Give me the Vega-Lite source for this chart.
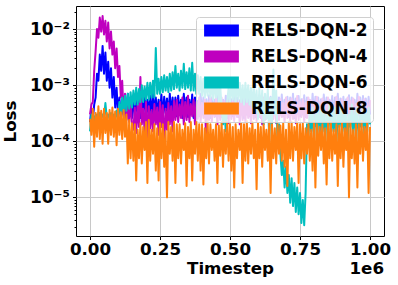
{
"$schema": "https://vega.github.io/schema/vega-lite/v6.json",
"width": 308, "height": 230,
"autosize": "none",
"padding": {"left": 76, "top": 6, "right": 14, "bottom": 49},
"config": {
 "font": "DejaVu Sans",
 "view": {"stroke": "black", "strokeWidth": 1},
 "axis": {"labelFont": "DejaVu Sans", "labelFontSize": 16.7, "labelFontWeight": "bold", "labelColor": "black",
  "titleFont": "DejaVu Sans", "titleFontSize": 16.7, "titleFontWeight": "bold", "titleColor": "black",
  "domain": false, "tickColor": "black", "tickWidth": 1, "gridColor": "#c8c8c8", "gridWidth": 1, "labelOverlap": false}
},
"title": {"text": "1e6", "orient": "bottom", "anchor": "end", "frame": "group", "fontSize": 16.7, "fontWeight": "bold", "font": "DejaVu Sans", "color": "black", "offset": -16},
"data": {"values": [
{"t":0,"a":2.2e-4,"b":3e-4,"c":1.5e-4,"d":2.5e-4},
{"t":5000,"a":3.8e-4,"b":4.5e-4,"c":3e-4,"d":1.3e-4},
{"t":10000,"a":2.4e-4,"b":5e-4,"c":1.8e-4,"d":3.8e-4},
{"t":15000,"a":4.5e-4,"b":1.8e-3,"c":2.8e-4,"d":8e-5},
{"t":20000,"a":6e-4,"b":4e-3,"c":2.2e-4,"d":3.2e-4},
{"t":25000,"a":1.6e-3,"b":1e-2,"c":3e-4,"d":1.2e-4},
{"t":30000,"a":1.2e-3,"b":7e-3,"c":2.4e-4,"d":4.2e-4},
{"t":35000,"a":3.5e-3,"b":1.6e-2,"c":3.2e-4,"d":1.1e-4},
{"t":40000,"a":1.8e-3,"b":9e-3,"c":2.5e-4,"d":3.5e-4},
{"t":45000,"a":5e-3,"b":1.7e-2,"c":3e-4,"d":9e-5},
{"t":50000,"a":1.6e-3,"b":8e-3,"c":2.6e-4,"d":3.8e-4},
{"t":55000,"a":3.8e-3,"b":1.4e-2,"c":4.8e-4,"d":1.4e-4},
{"t":60000,"a":1.2e-3,"b":6e-3,"c":2.6e-4,"d":3.2e-4},
{"t":65000,"a":2.6e-3,"b":1.3e-2,"c":3e-4,"d":9e-5},
{"t":70000,"a":9e-4,"b":4.5e-3,"c":2.5e-4,"d":3.6e-4},
{"t":75000,"a":2e-3,"b":9e-3,"c":3.2e-4,"d":1.3e-4},
{"t":80000,"a":6e-4,"b":3.5e-3,"c":2.6e-4,"d":4e-4},
{"t":85000,"a":1.4e-3,"b":6e-3,"c":3e-4,"d":1.2e-4},
{"t":90000,"a":4e-4,"b":2e-3,"c":2.4e-4,"d":3.4e-4},
{"t":95000,"a":9e-4,"b":4.5e-3,"c":3.5e-4,"d":8.5e-5},
{"t":100000,"a":3e-4,"b":1.4e-3,"c":2.6e-4,"d":3.8e-4},
{"t":105000,"a":6e-4,"b":2.2e-3,"c":5e-4,"d":1.3e-4},
{"t":110000,"a":2.6e-4,"b":6e-4,"c":3e-4,"d":3.3e-4},
{"t":115000,"a":5.5e-4,"b":1.2e-3,"c":6e-4,"d":1.1e-4},
{"t":120000,"a":2.8e-4,"b":3e-4,"c":3.2e-4,"d":3.6e-4},
{"t":125000,"a":6.5e-4,"b":7e-4,"c":6.5e-4,"d":1.2e-4},
{"t":130000,"a":2.4e-4,"b":2.5e-4,"c":3.5e-4,"d":3e-4},
{"t":135000,"a":7e-4,"b":5e-4,"c":7e-4,"d":4e-5},
{"t":140000,"a":3e-4,"b":2.2e-4,"c":3.8e-4,"d":2.4e-4},
{"t":145000,"a":6e-4,"b":5.5e-4,"c":7.5e-4,"d":5e-5},
{"t":150000,"a":2.6e-4,"b":2e-4,"c":4e-4,"d":2.1e-4},
{"t":155000,"a":6.5e-4,"b":1.6e-4,"c":8e-4,"d":4.5e-5},
{"t":160000,"a":2.8e-4,"b":4e-4,"c":4.5e-4,"d":2e-4},
{"t":165000,"a":5.5e-4,"b":1.4e-4,"c":9e-4,"d":2e-5},
{"t":170000,"a":3e-4,"b":4.5e-4,"c":4.5e-4,"d":1.6e-4},
{"t":175000,"a":7e-4,"b":1.8e-4,"c":8.5e-4,"d":5e-5},
{"t":180000,"a":2.6e-4,"b":1.4e-3,"c":5e-4,"d":2.1e-4},
{"t":185000,"a":6e-4,"b":2e-4,"c":1e-3,"d":4e-5},
{"t":190000,"a":3.2e-4,"b":3.8e-4,"c":5e-4,"d":1.8e-4},
{"t":195000,"a":7.5e-4,"b":1.5e-4,"c":9.5e-4,"d":7e-5},
{"t":200000,"a":2.7e-4,"b":5e-4,"c":5.5e-4,"d":2.2e-4},
{"t":205000,"a":5.5e-4,"b":1e-4,"c":1.1e-3,"d":1.8e-5},
{"t":210000,"a":3e-4,"b":4.2e-4,"c":5.5e-4,"d":2.4e-4},
{"t":215000,"a":6.5e-4,"b":1.7e-4,"c":1.1e-3,"d":4.5e-5},
{"t":220000,"a":2.6e-4,"b":3.6e-4,"c":6e-4,"d":1.6e-4},
{"t":225000,"a":7e-4,"b":1.5e-4,"c":1.2e-3,"d":6e-5},
{"t":230000,"a":3.1e-4,"b":4.6e-4,"c":6e-4,"d":2e-4},
{"t":235000,"a":6e-4,"b":2e-4,"c":4.6e-3,"d":3e-5},
{"t":240000,"a":2.8e-4,"b":4e-4,"c":7e-4,"d":1.7e-4},
{"t":245000,"a":5.5e-4,"b":1.3e-4,"c":1.3e-3,"d":2e-5},
{"t":250000,"a":3e-4,"b":5e-4,"c":7e-4,"d":2.1e-4},
{"t":255000,"a":6.8e-4,"b":1.8e-4,"c":1.4e-3,"d":5e-5},
{"t":260000,"a":2.6e-4,"b":4.4e-4,"c":7.5e-4,"d":2e-4},
{"t":265000,"a":6.2e-4,"b":8e-5,"c":1.5e-3,"d":3.5e-5},
{"t":270000,"a":3.2e-4,"b":3.8e-4,"c":8e-4,"d":1.5e-4},
{"t":275000,"a":5.8e-4,"b":1.6e-4,"c":1.4e-3,"d":1e-5},
{"t":280000,"a":2.7e-4,"b":4.8e-4,"c":7.5e-4,"d":2.2e-4},
{"t":285000,"a":7e-4,"b":2e-4,"c":1.6e-3,"d":6e-5},
{"t":290000,"a":3e-4,"b":4.2e-4,"c":8e-4,"d":1.8e-4},
{"t":295000,"a":6e-4,"b":1.5e-4,"c":1.7e-3,"d":4.5e-5},
{"t":300000,"a":2.8e-4,"b":5.2e-4,"c":8.5e-4,"d":2.2e-4},
{"t":305000,"a":6e-4,"b":2.4e-4,"c":2.2e-3,"d":1.8e-5},
{"t":310000,"a":2.8e-4,"b":5.5e-4,"c":9e-4,"d":2e-4},
{"t":315000,"a":6.5e-4,"b":2.2e-4,"c":1.6e-3,"d":5e-5},
{"t":320000,"a":3e-4,"b":4.5e-4,"c":8e-4,"d":2e-4},
{"t":325000,"a":5.5e-4,"b":2.6e-4,"c":1.8e-3,"d":4e-5},
{"t":330000,"a":2.6e-4,"b":6e-4,"c":9e-4,"d":1.6e-4},
{"t":335000,"a":7e-4,"b":2e-4,"c":2.4e-3,"d":7e-5},
{"t":340000,"a":3.2e-4,"b":5e-4,"c":8.5e-4,"d":2.1e-4},
{"t":345000,"a":6e-4,"b":2.4e-4,"c":1.7e-3,"d":1.6e-5},
{"t":350000,"a":2.7e-4,"b":6.5e-4,"c":9e-4,"d":1.8e-4},
{"t":355000,"a":5.5e-4,"b":2.2e-4,"c":2e-3,"d":5e-5},
{"t":360000,"a":3e-4,"b":4.6e-4,"c":8e-4,"d":2.2e-4},
{"t":365000,"a":6.8e-4,"b":2.8e-4,"c":2.5e-3,"d":2e-5},
{"t":370000,"a":2.6e-4,"b":5.5e-4,"c":8e-4,"d":1.6e-4},
{"t":375000,"a":6e-4,"b":2e-4,"c":1.6e-3,"d":6e-5},
{"t":380000,"a":3e-4,"b":5e-4,"c":7e-4,"d":2.2e-4},
{"t":385000,"a":5.2e-4,"b":2.5e-4,"c":1.5e-3,"d":4.5e-5},
{"t":390000,"a":2.8e-4,"b":6e-4,"c":7e-4,"d":2e-4},
{"t":395000,"a":7e-4,"b":2.2e-4,"c":1.4e-3,"d":3e-5},
{"t":400000,"a":3.1e-4,"b":4.8e-4,"c":6.5e-4,"d":2e-4},
{"t":405000,"a":6e-4,"b":2.6e-4,"c":1.3e-3,"d":1.7e-5},
{"t":410000,"a":2.7e-4,"b":5.5e-4,"c":6e-4,"d":1.7e-4},
{"t":415000,"a":5.6e-4,"b":1e-4,"c":1.2e-3,"d":5e-5},
{"t":420000,"a":3e-4,"b":5e-4,"c":6.5e-4,"d":2.3e-4},
{"t":425000,"a":6.6e-4,"b":2.4e-4,"c":1.3e-3,"d":4e-5},
{"t":430000,"a":2.6e-4,"b":6.2e-4,"c":6e-4,"d":2e-4},
{"t":435000,"a":6e-4,"b":2.2e-4,"c":1.1e-3,"d":7e-5},
{"t":440000,"a":3.2e-4,"b":4.6e-4,"c":5.5e-4,"d":1.6e-4},
{"t":445000,"a":5.5e-4,"b":2.7e-4,"c":1.2e-3,"d":4.5e-5},
{"t":450000,"a":2.8e-4,"b":5.8e-4,"c":6e-4,"d":2e-4},
{"t":455000,"a":7e-4,"b":2e-4,"c":1.1e-3,"d":1.8e-5},
{"t":460000,"a":3e-4,"b":5e-4,"c":5e-4,"d":1.9e-4},
{"t":465000,"a":6e-4,"b":2.4e-4,"c":1e-3,"d":5.5e-5},
{"t":470000,"a":2.7e-4,"b":6e-4,"c":4e-4,"d":2.2e-4},
{"t":475000,"a":5.5e-4,"b":2.2e-4,"c":2e-4,"d":3.5e-5},
{"t":480000,"a":3e-4,"b":5.2e-4,"c":3.5e-4,"d":1.6e-4},
{"t":485000,"a":6.5e-4,"b":2.6e-4,"c":1.5e-4,"d":6e-5},
{"t":490000,"a":2.6e-4,"b":4.6e-4,"c":5e-4,"d":2.2e-4},
{"t":495000,"a":6e-4,"b":2.1e-4,"c":9e-4,"d":4.5e-5},
{"t":500000,"a":3.1e-4,"b":6.4e-4,"c":5e-4,"d":2e-4},
{"t":505000,"a":5.6e-4,"b":2.5e-4,"c":1.1e-3,"d":3e-5},
{"t":510000,"a":2.8e-4,"b":5e-4,"c":5.5e-4,"d":1.8e-4},
{"t":515000,"a":7e-4,"b":2.3e-4,"c":1e-3,"d":1.5e-5},
{"t":520000,"a":3e-4,"b":5.6e-4,"c":5e-4,"d":2e-4},
{"t":525000,"a":6e-4,"b":2.7e-4,"c":1.2e-3,"d":5e-5},
{"t":530000,"a":2.7e-4,"b":4.8e-4,"c":5.5e-4,"d":1.6e-4},
{"t":535000,"a":5.4e-4,"b":2e-4,"c":1.1e-3,"d":7e-5},
{"t":540000,"a":3.2e-4,"b":6e-4,"c":5e-4,"d":2.1e-4},
{"t":545000,"a":6.4e-4,"b":2.4e-4,"c":1e-3,"d":1.8e-5},
{"t":550000,"a":2.6e-4,"b":5.2e-4,"c":4.5e-4,"d":2e-4},
{"t":555000,"a":6e-4,"b":2.2e-4,"c":1.1e-3,"d":4.5e-5},
{"t":560000,"a":3e-4,"b":5.8e-4,"c":5e-4,"d":2.3e-4},
{"t":565000,"a":7e-4,"b":2.6e-4,"c":1e-3,"d":4e-5},
{"t":570000,"a":2.8e-4,"b":4.6e-4,"c":4.5e-4,"d":1.7e-4},
{"t":575000,"a":5.6e-4,"b":2.1e-4,"c":9e-4,"d":6e-5},
{"t":580000,"a":3.1e-4,"b":6.2e-4,"c":4e-4,"d":2.2e-4},
{"t":585000,"a":6.2e-4,"b":2.5e-4,"c":1e-3,"d":5e-5},
{"t":590000,"a":2.7e-4,"b":5e-4,"c":3.5e-4,"d":1.6e-4},
{"t":595000,"a":5.8e-4,"b":2.3e-4,"c":8e-4,"d":1.4e-5},
{"t":600000,"a":3e-4,"b":5.6e-4,"c":2.5e-4,"d":2.1e-4},
{"t":605000,"a":6.6e-4,"b":2.7e-4,"c":9e-4,"d":5e-5},
{"t":610000,"a":2.6e-4,"b":4.8e-4,"c":3e-4,"d":1.8e-4},
{"t":615000,"a":6e-4,"b":2e-4,"c":8e-4,"d":3.5e-5},
{"t":620000,"a":3.2e-4,"b":6e-4,"c":2e-4,"d":2e-4},
{"t":625000,"a":5.5e-4,"b":2.4e-4,"c":7e-4,"d":7e-5},
{"t":630000,"a":2.8e-4,"b":5.2e-4,"c":2.5e-4,"d":1.6e-4},
{"t":635000,"a":7e-4,"b":2.6e-4,"c":9e-4,"d":4.5e-5},
{"t":640000,"a":3e-4,"b":5.8e-4,"c":1e-4,"d":2.2e-4},
{"t":645000,"a":6.2e-4,"b":2.2e-4,"c":6e-4,"d":1.2e-5},
{"t":650000,"a":2.7e-4,"b":4.6e-4,"c":2e-4,"d":2e-4},
{"t":655000,"a":5.6e-4,"b":2.5e-4,"c":1.9e-3,"d":5e-5},
{"t":660000,"a":3.1e-4,"b":6.2e-4,"c":3e-4,"d":1.7e-4},
{"t":665000,"a":6.4e-4,"b":2.1e-4,"c":8e-4,"d":4e-5},
{"t":670000,"a":2.6e-4,"b":5e-4,"c":8e-5,"d":2e-4},
{"t":675000,"a":6e-4,"b":2.4e-4,"c":2e-4,"d":6e-5},
{"t":680000,"a":3e-4,"b":5.6e-4,"c":6e-5,"d":1.9e-4},
{"t":685000,"a":6.8e-4,"b":2.7e-4,"c":2.5e-5,"d":4.5e-5},
{"t":690000,"a":2.8e-4,"b":4.8e-4,"c":4.5e-5,"d":2.1e-4},
{"t":695000,"a":5.5e-4,"b":2.2e-4,"c":1.5e-5,"d":3.5e-5},
{"t":700000,"a":3.2e-4,"b":6e-4,"c":3.5e-5,"d":1.6e-4},
{"t":705000,"a":6.2e-4,"b":2.6e-4,"c":1.2e-5,"d":1.6e-5},
{"t":710000,"a":2.7e-4,"b":5.2e-4,"c":2.5e-5,"d":2.2e-4},
{"t":715000,"a":6e-4,"b":2.3e-4,"c":8e-6,"d":5e-5},
{"t":720000,"a":3e-4,"b":5.8e-4,"c":2.2e-5,"d":2.2e-4},
{"t":725000,"a":7e-4,"b":2.5e-4,"c":7e-6,"d":4.5e-5},
{"t":730000,"a":2.6e-4,"b":4.6e-4,"c":1.8e-5,"d":1.8e-4},
{"t":735000,"a":5.8e-4,"b":2.1e-4,"c":5.5e-6,"d":7e-5},
{"t":740000,"a":3.1e-4,"b":6.4e-4,"c":1.5e-5,"d":2.2e-4},
{"t":745000,"a":6.4e-4,"b":2.4e-4,"c":5e-6,"d":1.8e-5},
{"t":750000,"a":2.8e-4,"b":5e-4,"c":1.2e-5,"d":2e-4},
{"t":755000,"a":5.6e-4,"b":2.7e-4,"c":3.5e-6,"d":5e-5},
{"t":760000,"a":3e-4,"b":5.6e-4,"c":9e-6,"d":2.1e-4},
{"t":765000,"a":6.6e-4,"b":2.2e-4,"c":3.2e-6,"d":4e-5},
{"t":770000,"a":2.7e-4,"b":4.8e-4,"c":1.2e-5,"d":1.7e-4},
{"t":775000,"a":6e-4,"b":2.6e-4,"c":2e-4,"d":6e-5},
{"t":780000,"a":3.2e-4,"b":6e-4,"c":1.2e-4,"d":2e-4},
{"t":785000,"a":5.5e-4,"b":2.3e-4,"c":3.5e-4,"d":4.5e-5},
{"t":790000,"a":2.8e-4,"b":5.4e-4,"c":1.5e-4,"d":1.6e-4},
{"t":795000,"a":7e-4,"b":2.5e-4,"c":4e-4,"d":3e-5},
{"t":800000,"a":3e-4,"b":4.6e-4,"c":1e-4,"d":2.3e-4},
{"t":805000,"a":6.2e-4,"b":2.1e-4,"c":3e-4,"d":1.5e-5},
{"t":810000,"a":2.6e-4,"b":6.2e-4,"c":1.8e-4,"d":2e-4},
{"t":815000,"a":6e-4,"b":2.7e-4,"c":4.5e-4,"d":5.5e-5},
{"t":820000,"a":3.1e-4,"b":5e-4,"c":1.2e-4,"d":1.8e-4},
{"t":825000,"a":5.6e-4,"b":2.4e-4,"c":3.5e-4,"d":7e-5},
{"t":830000,"a":2.8e-4,"b":5.8e-4,"c":1.5e-4,"d":2e-4},
{"t":835000,"a":6.8e-4,"b":2.2e-4,"c":4e-4,"d":4e-5},
{"t":840000,"a":3e-4,"b":4.8e-4,"c":1e-4,"d":1.7e-4},
{"t":845000,"a":6e-4,"b":2.6e-4,"c":3e-4,"d":1.7e-5},
{"t":850000,"a":2.7e-4,"b":6e-4,"c":1.8e-4,"d":2.2e-4},
{"t":855000,"a":5.5e-4,"b":2.3e-4,"c":4.5e-4,"d":5e-5},
{"t":860000,"a":3.2e-4,"b":5.2e-4,"c":1.2e-4,"d":2.2e-4},
{"t":865000,"a":6.4e-4,"b":2.5e-4,"c":3.5e-4,"d":4.5e-5},
{"t":870000,"a":2.6e-4,"b":4.6e-4,"c":1.5e-4,"d":1.6e-4},
{"t":875000,"a":6e-4,"b":2.1e-4,"c":4e-4,"d":6e-5},
{"t":880000,"a":3e-4,"b":6.2e-4,"c":1e-4,"d":2e-4},
{"t":885000,"a":7e-4,"b":2.7e-4,"c":3e-4,"d":1.6e-5},
{"t":890000,"a":2.8e-4,"b":5e-4,"c":1.8e-4,"d":1.9e-4},
{"t":895000,"a":5.8e-4,"b":2.4e-4,"c":4.5e-4,"d":5e-5},
{"t":900000,"a":3.1e-4,"b":5.6e-4,"c":1.2e-4,"d":2.1e-4},
{"t":905000,"a":6.2e-4,"b":2.2e-4,"c":3.5e-4,"d":3.5e-5},
{"t":910000,"a":2.7e-4,"b":4.8e-4,"c":1.5e-4,"d":1.7e-4},
{"t":915000,"a":5.6e-4,"b":2.6e-4,"c":4e-4,"d":7e-5},
{"t":920000,"a":3e-4,"b":6e-4,"c":1e-4,"d":2.2e-4},
{"t":925000,"a":6.6e-4,"b":2.3e-4,"c":3e-4,"d":1e-5},
{"t":930000,"a":2.6e-4,"b":5.2e-4,"c":1.8e-4,"d":2.2e-4},
{"t":935000,"a":6e-4,"b":2.5e-4,"c":4.5e-4,"d":5e-5},
{"t":940000,"a":3.2e-4,"b":5.8e-4,"c":1.2e-4,"d":1.6e-4},
{"t":945000,"a":5.5e-4,"b":2.1e-4,"c":3.5e-4,"d":4e-5},
{"t":950000,"a":2.8e-4,"b":4.6e-4,"c":1.5e-4,"d":2e-4},
{"t":955000,"a":7e-4,"b":2.7e-4,"c":4e-4,"d":1.5e-5},
{"t":960000,"a":3e-4,"b":6.2e-4,"c":1e-4,"d":2e-4},
{"t":965000,"a":6e-4,"b":2.4e-4,"c":3e-4,"d":6e-5},
{"t":970000,"a":2.7e-4,"b":5e-4,"c":1.8e-4,"d":2.3e-4},
{"t":975000,"a":6.4e-4,"b":2.2e-4,"c":4.5e-4,"d":4.5e-5},
{"t":980000,"a":3.1e-4,"b":5.6e-4,"c":1.2e-4,"d":1.8e-4},
{"t":985000,"a":5.8e-4,"b":2.6e-4,"c":3.5e-4,"d":7e-5},
{"t":990000,"a":2.6e-4,"b":4.8e-4,"c":1.5e-4,"d":2.2e-4},
{"t":995000,"a":6.2e-4,"b":2.3e-4,"c":4e-4,"d":1.2e-5},
{"t":1000000,"a":3e-4,"b":5.4e-4,"c":2e-4,"d":1.8e-4}
]},
"transform": [{"fold": ["a", "b", "c", "d"], "as": ["series", "loss"]}],
"mark": {"type": "line", "strokeWidth": 2, "clip": true, "strokeJoin": "round"},
"encoding": {
 "x": {"field": "t", "type": "quantitative",
  "scale": {"domain": [-50000, 1050000], "nice": false, "zero": false},
  "axis": {"values": [0, 250000, 500000, 750000, 1000000], "labelExpr": "format(datum.value/1000000, '.2f')",
   "title": "Timestep", "tickSize": 3.5, "labelPadding": 2, "titlePadding": 2, "grid": true}},
 "y": {"field": "loss", "type": "quantitative",
  "scale": {"type": "log", "domain": [2.05e-6, 0.0257], "nice": false},
  "axis": {"values": [3e-6,4e-6,5e-6,6e-6,7e-6,8e-6,9e-6,1e-5,2e-5,3e-5,4e-5,5e-5,6e-5,7e-5,8e-5,9e-5,1e-4,2e-4,3e-4,4e-4,5e-4,6e-4,7e-4,8e-4,9e-4,1e-3,2e-3,3e-3,4e-3,5e-3,6e-3,7e-3,8e-3,9e-3,1e-2,2e-2],
   "labelExpr": "abs(log(datum.value)/LN10 - round(log(datum.value)/LN10)) < 0.01 ? '10⁻' + ['⁰','¹','²','³','⁴','⁵','⁶'][-round(log(datum.value)/LN10)] : ''",
   "labelFontSize": 17,
   "tickSize": {"condition": {"test": "abs(log(datum.value)/LN10 - round(log(datum.value)/LN10)) < 0.01", "value": 3.5}, "value": 2},
   "gridOpacity": {"condition": {"test": "abs(log(datum.value)/LN10 - round(log(datum.value)/LN10)) < 0.01", "value": 1}, "value": 0},
   "grid": true, "title": "Loss", "labelPadding": 3, "titlePadding": 10}},
 "color": {"field": "series", "type": "nominal",
  "scale": {"domain": ["a", "b", "c", "d"], "range": ["#0000ff", "#bf00bf", "#00bfbf", "#ff7f0e"]},
  "legend": {"orient": "none", "legendX": 120, "legendY": 11, "title": null,
   "labelExpr": "{'a':'RELS-DQN-2','b':'RELS-DQN-4','c':'RELS-DQN-6','d':'RELS-DQN-8'}[datum.label]",
   "labelFont": "DejaVu Sans", "labelFontSize": 17, "labelFontWeight": "bold", "labelColor": "black",
   "symbolType": "M-2.9,-1H2.9V1H-2.9Z", "symbolSize": 144, "symbolStrokeWidth": 0, "symbolOpacity": 1,
   "symbolOffset": 12, "labelOffset": 21,
   "fillColor": "rgba(255,255,255,0.8)", "strokeColor": "#d0d0d0", "cornerRadius": 3, "padding": 5,
   "rowPadding": 8,
   "encode": {"symbols": {"update": {"fill": {"scale": "color", "field": "value"}, "strokeWidth": {"value": 0}, "opacity": {"value": 1}}}}}}
}
}
